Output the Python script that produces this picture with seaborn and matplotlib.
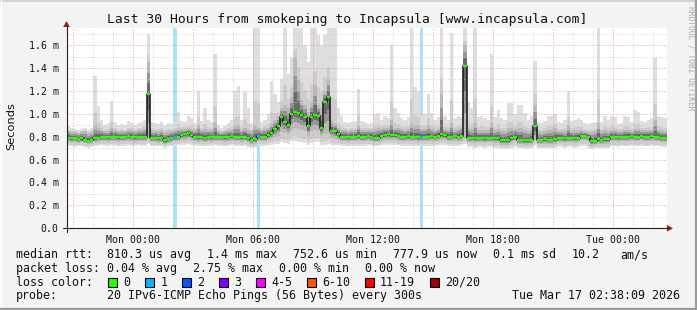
import numpy as np
import pandas as pd
import matplotlib
matplotlib.use("Agg")
import matplotlib.pyplot as plt
import seaborn as sns
from matplotlib.patches import Rectangle, Polygon
from matplotlib.lines import Line2D

sns.set_theme(style="white")
plt.rcParams['font.family'] = ['DejaVu Sans Mono', 'DejaVu Sans']

# ---------------- data ----------------
title = "Last 30 Hours from smokeping to Incapsula [www.incapsula.com]"
start_hour = -10 / 3          # Sun 20:40 relative to Mon 00:00
step_hours = 1 / 6            # 10 minute steps

median_ms = [
    0.79, 0.785, 0.79, 0.78, 0.785, 0.775, 0.765, 0.77, 0.785, 0.79,
    0.80, 0.80, 0.795, 0.80, 0.80, 0.795, 0.80, 0.80, 0.81, 0.80,
    0.795, 0.80, 0.80, 0.80, 1.17, 0.79, 0.79, 0.785, 0.79, 0.77,
    0.78, 0.79, 0.80, 0.80, 0.815, 0.82, 0.83, 0.815, 0.80, 0.795,
    0.80, 0.79, 0.80, 0.795, 0.80, 0.80, 0.80, 0.795, 0.80, 0.805,
    0.80, 0.80, 0.795, 0.80, 0.785, 0.775, 0.78, 0.81, 0.80, 0.80,
    0.815, 0.83, 0.87, 0.89, 0.97, 0.93, 0.905, 1.00, 1.02, 1.01,
    0.99, 0.97, 0.89, 0.97, 0.99, 0.98, 0.875, 1.10, 1.15, 0.85,
    0.85, 0.82, 0.80, 0.80, 0.795, 0.80, 0.80, 0.805, 0.80, 0.80,
    0.81, 0.80, 0.79, 0.79, 0.81, 0.815, 0.82, 0.815, 0.815, 0.81,
    0.80, 0.80, 0.805, 0.80, 0.80, 0.795, 0.80, 0.80, 0.80, 0.805,
    0.80, 0.81, 0.82, 0.815, 0.80, 0.80, 0.805, 0.80, 0.81, 1.42,
    0.79, 0.79, 0.785, 0.79, 0.79, 0.785, 0.79, 0.79, 0.785, 0.785,
    0.77, 0.77, 0.77, 0.785, 0.80, 0.775, 0.775, 0.77, 0.77, 0.775,
    0.89, 0.775, 0.775, 0.78, 0.775, 0.775, 0.78, 0.79, 0.79, 0.785,
    0.79, 0.79, 0.785, 0.79, 0.81, 0.81, 0.80, 0.76, 0.765, 0.78,
    0.775, 0.78, 0.78, 0.80, 0.80, 0.795, 0.80, 0.80, 0.80, 0.805,
    0.80, 0.80, 0.81, 0.80, 0.80, 0.805, 0.80, 0.80, 0.79, 0.79,
]

smoke_max_ms = [
    0.89, 0.88, 0.87, 0.86, 0.87, 0.88, 0.86, 0.88, 1.33, 1.07,
    0.95, 0.90, 0.92, 1.11, 0.93, 0.90, 0.91, 0.90, 0.94, 0.92,
    0.90, 0.92, 0.93, 0.95, 1.70, 0.93, 0.92, 0.91, 0.93, 0.90,
    0.92, 0.91, 0.93, 1.02, 0.94, 0.93, 0.98, 0.96, 0.92, 1.20,
    0.94, 1.05, 0.95, 0.93, 1.52, 0.90, 0.88, 0.89, 0.92, 0.95,
    1.20, 1.24, 0.95, 1.19, 1.05, 0.92, 1.75, 1.75, 0.93, 0.95,
    1.00, 1.29, 1.17, 1.10, 1.30, 1.75, 1.35, 1.50, 1.75, 1.75,
    1.75, 1.60, 1.45, 1.75, 1.75, 1.69, 1.60, 1.69, 1.75, 1.75,
    1.75, 1.05, 0.98, 0.93, 0.92, 0.93, 0.94, 1.22, 0.94, 0.93,
    0.91, 0.92, 1.00, 1.01, 0.95, 0.98, 0.96, 1.60, 1.05, 1.01,
    0.96, 0.95, 0.97, 1.75, 1.23, 1.20, 0.98, 1.00, 1.17, 1.01,
    0.95, 0.97, 1.75, 0.98, 0.95, 1.71, 0.96, 0.98, 0.97, 1.75,
    1.10, 1.05, 1.75, 0.97, 0.98, 0.96, 0.95, 1.52, 0.97, 1.03,
    0.96, 0.95, 1.09, 1.09, 1.00, 1.08, 1.08, 1.01, 0.95, 0.98,
    1.46, 0.93, 0.92, 0.94, 0.98, 0.98, 1.00, 0.93, 0.92, 0.95,
    1.20, 0.94, 0.95, 0.96, 0.95, 0.92, 0.91, 0.92, 0.93, 1.75,
    0.93, 0.98, 0.95, 0.98, 0.97, 0.91, 0.92, 0.98, 0.97, 0.93,
    1.03, 1.02, 0.94, 0.93, 0.95, 0.96, 1.49, 0.98, 0.97, 0.96,
]

smoke_upper_ms = [
    0.85, 0.84, 0.84, 0.83, 0.84, 0.85, 0.83, 0.84, 0.90, 0.88,
    0.86, 0.85, 0.85, 0.88, 0.86, 0.85, 0.85, 0.85, 0.86, 0.86,
    0.85, 0.86, 0.86, 0.87, 1.45, 0.86, 0.85, 0.85, 0.86, 0.84,
    0.85, 0.85, 0.86, 0.87, 0.87, 0.87, 0.88, 0.87, 0.86, 0.90,
    0.86, 0.87, 0.86, 0.86, 0.92, 0.85, 0.84, 0.85, 0.86, 0.86,
    0.90, 0.90, 0.86, 0.88, 0.86, 0.85, 0.90, 0.88, 0.86, 0.87,
    0.88, 0.92, 0.95, 0.98, 1.05, 1.08, 1.05, 1.15, 1.50, 1.30,
    1.12, 1.08, 1.02, 1.10, 1.25, 1.08, 1.05, 1.20, 1.30, 0.95,
    0.92, 0.88, 0.86, 0.86, 0.85, 0.86, 0.86, 0.90, 0.86, 0.86,
    0.86, 0.86, 0.87, 0.88, 0.87, 0.88, 0.88, 0.95, 0.88, 0.88,
    0.87, 0.86, 0.87, 0.92, 0.90, 0.90, 0.87, 0.87, 0.90, 0.87,
    0.86, 0.87, 1.17, 0.87, 0.86, 0.92, 0.86, 0.87, 0.88, 1.60,
    0.88, 0.87, 0.92, 0.86, 0.86, 0.86, 0.86, 0.92, 0.86, 0.87,
    0.85, 0.85, 0.88, 0.88, 0.87, 0.88, 0.88, 0.86, 0.85, 0.86,
    1.08, 0.85, 0.84, 0.85, 0.86, 0.86, 0.88, 0.85, 0.85, 0.85,
    0.90, 0.85, 0.86, 0.86, 0.86, 0.85, 0.84, 0.84, 0.85, 0.92,
    0.85, 0.86, 0.85, 0.86, 0.86, 0.85, 0.85, 0.86, 0.86, 0.85,
    0.87, 0.87, 0.86, 0.86, 0.86, 0.86, 0.95, 0.86, 0.86, 0.85,
]

smoke_lower_ms = [
    0.755, 0.75, 0.75, 0.745, 0.75, 0.745, 0.735, 0.74, 0.75, 0.755,
    0.76, 0.76, 0.755, 0.76, 0.76, 0.755, 0.76, 0.76, 0.765, 0.76,
    0.755, 0.76, 0.76, 0.76, 0.78, 0.75, 0.75, 0.745, 0.75, 0.735,
    0.745, 0.75, 0.76, 0.76, 0.77, 0.775, 0.78, 0.77, 0.76, 0.755,
    0.76, 0.75, 0.76, 0.755, 0.76, 0.76, 0.76, 0.755, 0.76, 0.765,
    0.76, 0.76, 0.755, 0.76, 0.745, 0.735, 0.74, 0.765, 0.76, 0.76,
    0.77, 0.78, 0.80, 0.81, 0.84, 0.83, 0.82, 0.86, 0.88, 0.87,
    0.86, 0.85, 0.81, 0.85, 0.86, 0.85, 0.81, 0.82, 0.82, 0.79,
    0.78, 0.77, 0.76, 0.76, 0.755, 0.76, 0.76, 0.765, 0.76, 0.76,
    0.765, 0.76, 0.75, 0.75, 0.765, 0.77, 0.775, 0.77, 0.77, 0.765,
    0.76, 0.76, 0.765, 0.76, 0.76, 0.755, 0.76, 0.76, 0.76, 0.765,
    0.76, 0.765, 0.775, 0.77, 0.76, 0.76, 0.765, 0.76, 0.765, 0.79,
    0.75, 0.75, 0.745, 0.75, 0.75, 0.745, 0.75, 0.75, 0.745, 0.745,
    0.73, 0.73, 0.73, 0.745, 0.76, 0.735, 0.735, 0.73, 0.73, 0.735,
    0.77, 0.735, 0.735, 0.74, 0.735, 0.735, 0.74, 0.75, 0.75, 0.745,
    0.75, 0.75, 0.745, 0.75, 0.77, 0.77, 0.76, 0.72, 0.725, 0.74,
    0.735, 0.74, 0.74, 0.76, 0.76, 0.755, 0.76, 0.76, 0.76, 0.765,
    0.76, 0.76, 0.77, 0.76, 0.76, 0.765, 0.76, 0.76, 0.75, 0.75,
]

smoke_min_ms = [
    0.72, 0.715, 0.71, 0.72, 0.715, 0.71, 0.705, 0.71, 0.72, 0.72,
    0.725, 0.72, 0.72, 0.725, 0.72, 0.715, 0.72, 0.72, 0.725, 0.72,
    0.72, 0.725, 0.72, 0.72, 0.74, 0.715, 0.72, 0.715, 0.72, 0.705,
    0.715, 0.72, 0.72, 0.725, 0.73, 0.73, 0.735, 0.73, 0.72, 0.72,
    0.72, 0.715, 0.72, 0.72, 0.725, 0.72, 0.72, 0.715, 0.72, 0.725,
    0.72, 0.72, 0.715, 0.72, 0.71, 0.705, 0.71, 0.72, 0.72, 0.72,
    0.725, 0.73, 0.74, 0.74, 0.75, 0.745, 0.74, 0.76, 0.76, 0.755,
    0.75, 0.745, 0.73, 0.745, 0.75, 0.75, 0.73, 0.73, 0.74, 0.73,
    0.73, 0.725, 0.72, 0.72, 0.715, 0.72, 0.72, 0.72, 0.72, 0.72,
    0.725, 0.72, 0.715, 0.715, 0.725, 0.73, 0.73, 0.73, 0.725, 0.725,
    0.72, 0.72, 0.72, 0.72, 0.72, 0.715, 0.72, 0.72, 0.72, 0.72,
    0.72, 0.725, 0.73, 0.73, 0.72, 0.72, 0.72, 0.72, 0.725, 0.74,
    0.71, 0.71, 0.705, 0.71, 0.71, 0.705, 0.71, 0.71, 0.705, 0.70,
    0.695, 0.695, 0.695, 0.70, 0.71, 0.70, 0.70, 0.695, 0.695, 0.70,
    0.72, 0.70, 0.70, 0.70, 0.70, 0.70, 0.705, 0.71, 0.71, 0.705,
    0.71, 0.71, 0.705, 0.71, 0.72, 0.72, 0.70, 0.69, 0.70, 0.70,
    0.70, 0.70, 0.70, 0.715, 0.715, 0.71, 0.715, 0.715, 0.715, 0.72,
    0.715, 0.715, 0.72, 0.715, 0.715, 0.72, 0.715, 0.715, 0.71, 0.71,
]

loss_step_index = [32, 57, 106]
loss_step_count = [1, 1, 1]

loss_labels = ["0", "1", "2", "3", "4-5", "6-10", "11-19", "20/20"]
loss_colors = ["#26ff00", "#00b8ff", "#0059ff", "#7e00ff", "#ff00ff",
               "#ff5500", "#ff0000", "#a00000"]
loss_bar_colors = ["#ffffff", "#aae4fa", "#9fbfff", "#c9a0ff", "#ffa0ff",
                   "#ffbb99", "#ff9f9f", "#d99f9f"]

xtick_hours = [0, 6, 12, 18, 24]
xtick_labels = ["Mon 00:00", "Mon 06:00", "Mon 12:00", "Mon 18:00", "Tue 00:00"]
ytick_values = [0.0, 0.2, 0.4, 0.6, 0.8, 1.0, 1.2, 1.4, 1.6]
ytick_labels = ["0.0", "0.2 m", "0.4 m", "0.6 m", "0.8 m", "1.0 m", "1.2 m", "1.4 m", "1.6 m"]

legend_rtt = ["810.3 us avg", "1.4 ms max", "752.6 us min", "777.9 us now",
              "0.1 ms sd", "10.2", "am/s"]
legend_loss = ["0.04 % avg", "2.75 % max", "0.00 % min", "0.00 % now"]
probe_text = "20 IPv6-ICMP Echo Pings (56 Bytes) every 300s"
stamp_text = "Tue Mar 17 02:38:09 2026"

# ---------------- figure ----------------
W, H = 697, 310
fig = plt.figure(figsize=(W / 100, H / 100), dpi=100)
fig.patch.set_facecolor('#f3f3f3')

def fx(px):
    return px / W

def fy(py):
    return 1 - py / H

ax = fig.add_axes([fx(66.5), fy(228.3), 600 / W, 200 / H])
ax.set_facecolor('white')

n = len(median_ms)
edges = start_hour + np.arange(n + 1) * step_hours

def ext(a):
    a = np.asarray(a, dtype=float)
    return np.append(a, a[-1])

ymax = 200 / 114.5

# loss bars behind the smoke
for idx, cnt in zip(loss_step_index, loss_step_count):
    ax.axvspan(edges[idx], edges[idx + 1], color=loss_bar_colors[cnt], lw=0, zorder=0.5)

med = ext(median_ms)
lo, hi = ext(smoke_min_ms), ext(smoke_max_ms)
q1, q3 = ext(smoke_lower_ms), ext(smoke_upper_ms)

# smoke: outer light area, then shaded layers towards the median
ax.fill_between(edges, lo, hi, step='post', color='#dedede', lw=0, zorder=1)
ax.fill_between(edges, lo + 0.35 * (q1 - lo), q3 + 0.25 * (hi - q3), step='post',
                color='#cdcdcd', lw=0, zorder=1.1)
for f, col, z in [(1.0, '#b8b8b8', 1.2), (0.65, '#949494', 1.3), (0.35, '#6a6a6a', 1.4)]:
    ax.fill_between(edges, med - f * (med - q1), med + f * (q3 - med), step='post',
                    color=col, lw=0, zorder=z)

# dark core of median
df = pd.DataFrame({'t': edges, 'median': med})
sns.lineplot(data=df, x='t', y='median', drawstyle='steps-post', color='#202020',
             lw=1.2, ax=ax, zorder=4)

# colored median segments
loss_per_step = np.zeros(n, dtype=int)
for idx, cnt in zip(loss_step_index, loss_step_count):
    loss_per_step[idx] = cnt
mv = np.asarray(median_ms)
for c in np.unique(loss_per_step):
    m = loss_per_step == c
    ax.hlines(mv[m], edges[:-1][m], edges[1:][m], color=loss_colors[c], lw=1.6, zorder=5)

ax.set_xlim(edges[0], start_hour + 30)
ax.set_ylim(0, ymax)
ax.set_xlabel('')
ax.set_ylabel('')

# grid
ax.set_xticks(np.arange(-3, 27, 3))
ax.set_xticklabels([xtick_labels[xtick_hours.index(h)] if h in xtick_hours else ''
                    for h in range(-3, 27, 3)])
ax.set_xticks(np.arange(-3, 27, 1), minor=True)
ax.set_yticks(ytick_values)
ax.set_yticklabels(ytick_labels)
ax.set_yticks(np.arange(0.1, 1.75, 0.2), minor=True)
ax.set_axisbelow(False)
ax.grid(which='minor', color='#cfcfcf', lw=0.72, ls=(0, (1, 2)))
ax.grid(which='major', color='#e79a9a', lw=0.72, ls=(0, (1, 2)))
for s in ax.spines.values():
    s.set_visible(False)
ax.tick_params(axis='both', which='both', direction='out', colors='#444444',
               labelcolor='#111111', labelsize=7.1, width=0.7)
ax.tick_params(axis='both', which='major', length=2.5)
ax.tick_params(axis='both', which='minor', length=1.5)
ax.tick_params(axis='y', pad=3.0)
ax.tick_params(axis='x', pad=2.0)

# axis lines with arrows
fig.add_artist(Line2D([fx(63), fx(668)], [fy(228.3), fy(228.3)], color='#222222', lw=0.8))
fig.add_artist(Line2D([fx(66.5), fx(66.5)], [fy(232), fy(26)], color='#222222', lw=0.8))
fig.add_artist(Polygon([[fx(667), fy(225)], [fx(673), fy(228.3)], [fx(667), fy(231.6)]],
                       closed=True, color='#9c2020', lw=0))
fig.add_artist(Polygon([[fx(63.2), fy(27)], [fx(66.5), fy(21)], [fx(69.8), fy(27)]],
                       closed=True, color='#9c2020', lw=0))

# frame
fig.add_artist(Line2D([0, 1], [fy(0.5), fy(0.5)], color='#cccccc', lw=1.2))
fig.add_artist(Line2D([fx(1), fx(1)], [0, 1], color='#ffffff', lw=1.0))
fig.add_artist(Line2D([0, 1], [fy(309), fy(309)], color='#9a9a9a', lw=1.6))
fig.add_artist(Line2D([fx(696), fx(696)], [0, 1], color='#9a9a9a', lw=1.6))

# texts
fig.text(fx(347.5), fy(23.5), title, ha='center', va='baseline', fontsize=9.4, color='#111111')
fig.text(fx(11), fy(126), "Seconds", rotation=90, ha='center', va='center',
         fontsize=8.2, color='#111111', family=['DejaVu Sans'])
fig.text(fx(691.5), fy(58), "RRDTOOL / TOBI OETIKER", rotation=270, ha='center', va='center',
         fontsize=5.7, color='#a8a8a8')

LFS = 8.37
base = [258.3, 272.0, 285.7, 299.4]
fig.text(fx(16), fy(base[0]), "median rtt:", fontsize=LFS, va='baseline', color='#111111')
for s, x in zip(legend_rtt, [107, 207, 293, 393, 493, 572, 620]):
    fig.text(fx(x), fy(base[0]), s, fontsize=LFS, va='baseline', color='#111111')
fig.text(fx(16), fy(base[1]), "packet loss:", fontsize=LFS, va='baseline', color='#111111')
for s, x in zip(legend_loss, [107, 193, 279, 365]):
    fig.text(fx(x), fy(base[1]), s, fontsize=LFS, va='baseline', color='#111111')
fig.text(fx(16), fy(base[2]), "loss color:", fontsize=LFS, va='baseline', color='#111111')
sx = 108.0
for lbl, col in zip(loss_labels, loss_colors):
    fig.add_artist(Rectangle((fx(sx), fy(286.7)), 9 / W, 9 / H, facecolor=col,
                             edgecolor='#000000', lw=0.8))
    fig.text(fx(sx + 15.3), fy(base[2]), lbl, fontsize=LFS, va='baseline', color='#111111')
    sx += 30.0 + 6.98 * len(lbl)
fig.text(fx(16), fy(base[3]), "probe:", fontsize=LFS, va='baseline', color='#111111')
fig.text(fx(107), fy(base[3]), probe_text, fontsize=LFS, va='baseline', color='#111111')
fig.text(fx(680), fy(base[3]), stamp_text, fontsize=LFS, va='baseline', ha='right', color='#111111')

fig.savefig("out.png", dpi=100, facecolor=fig.get_facecolor())
